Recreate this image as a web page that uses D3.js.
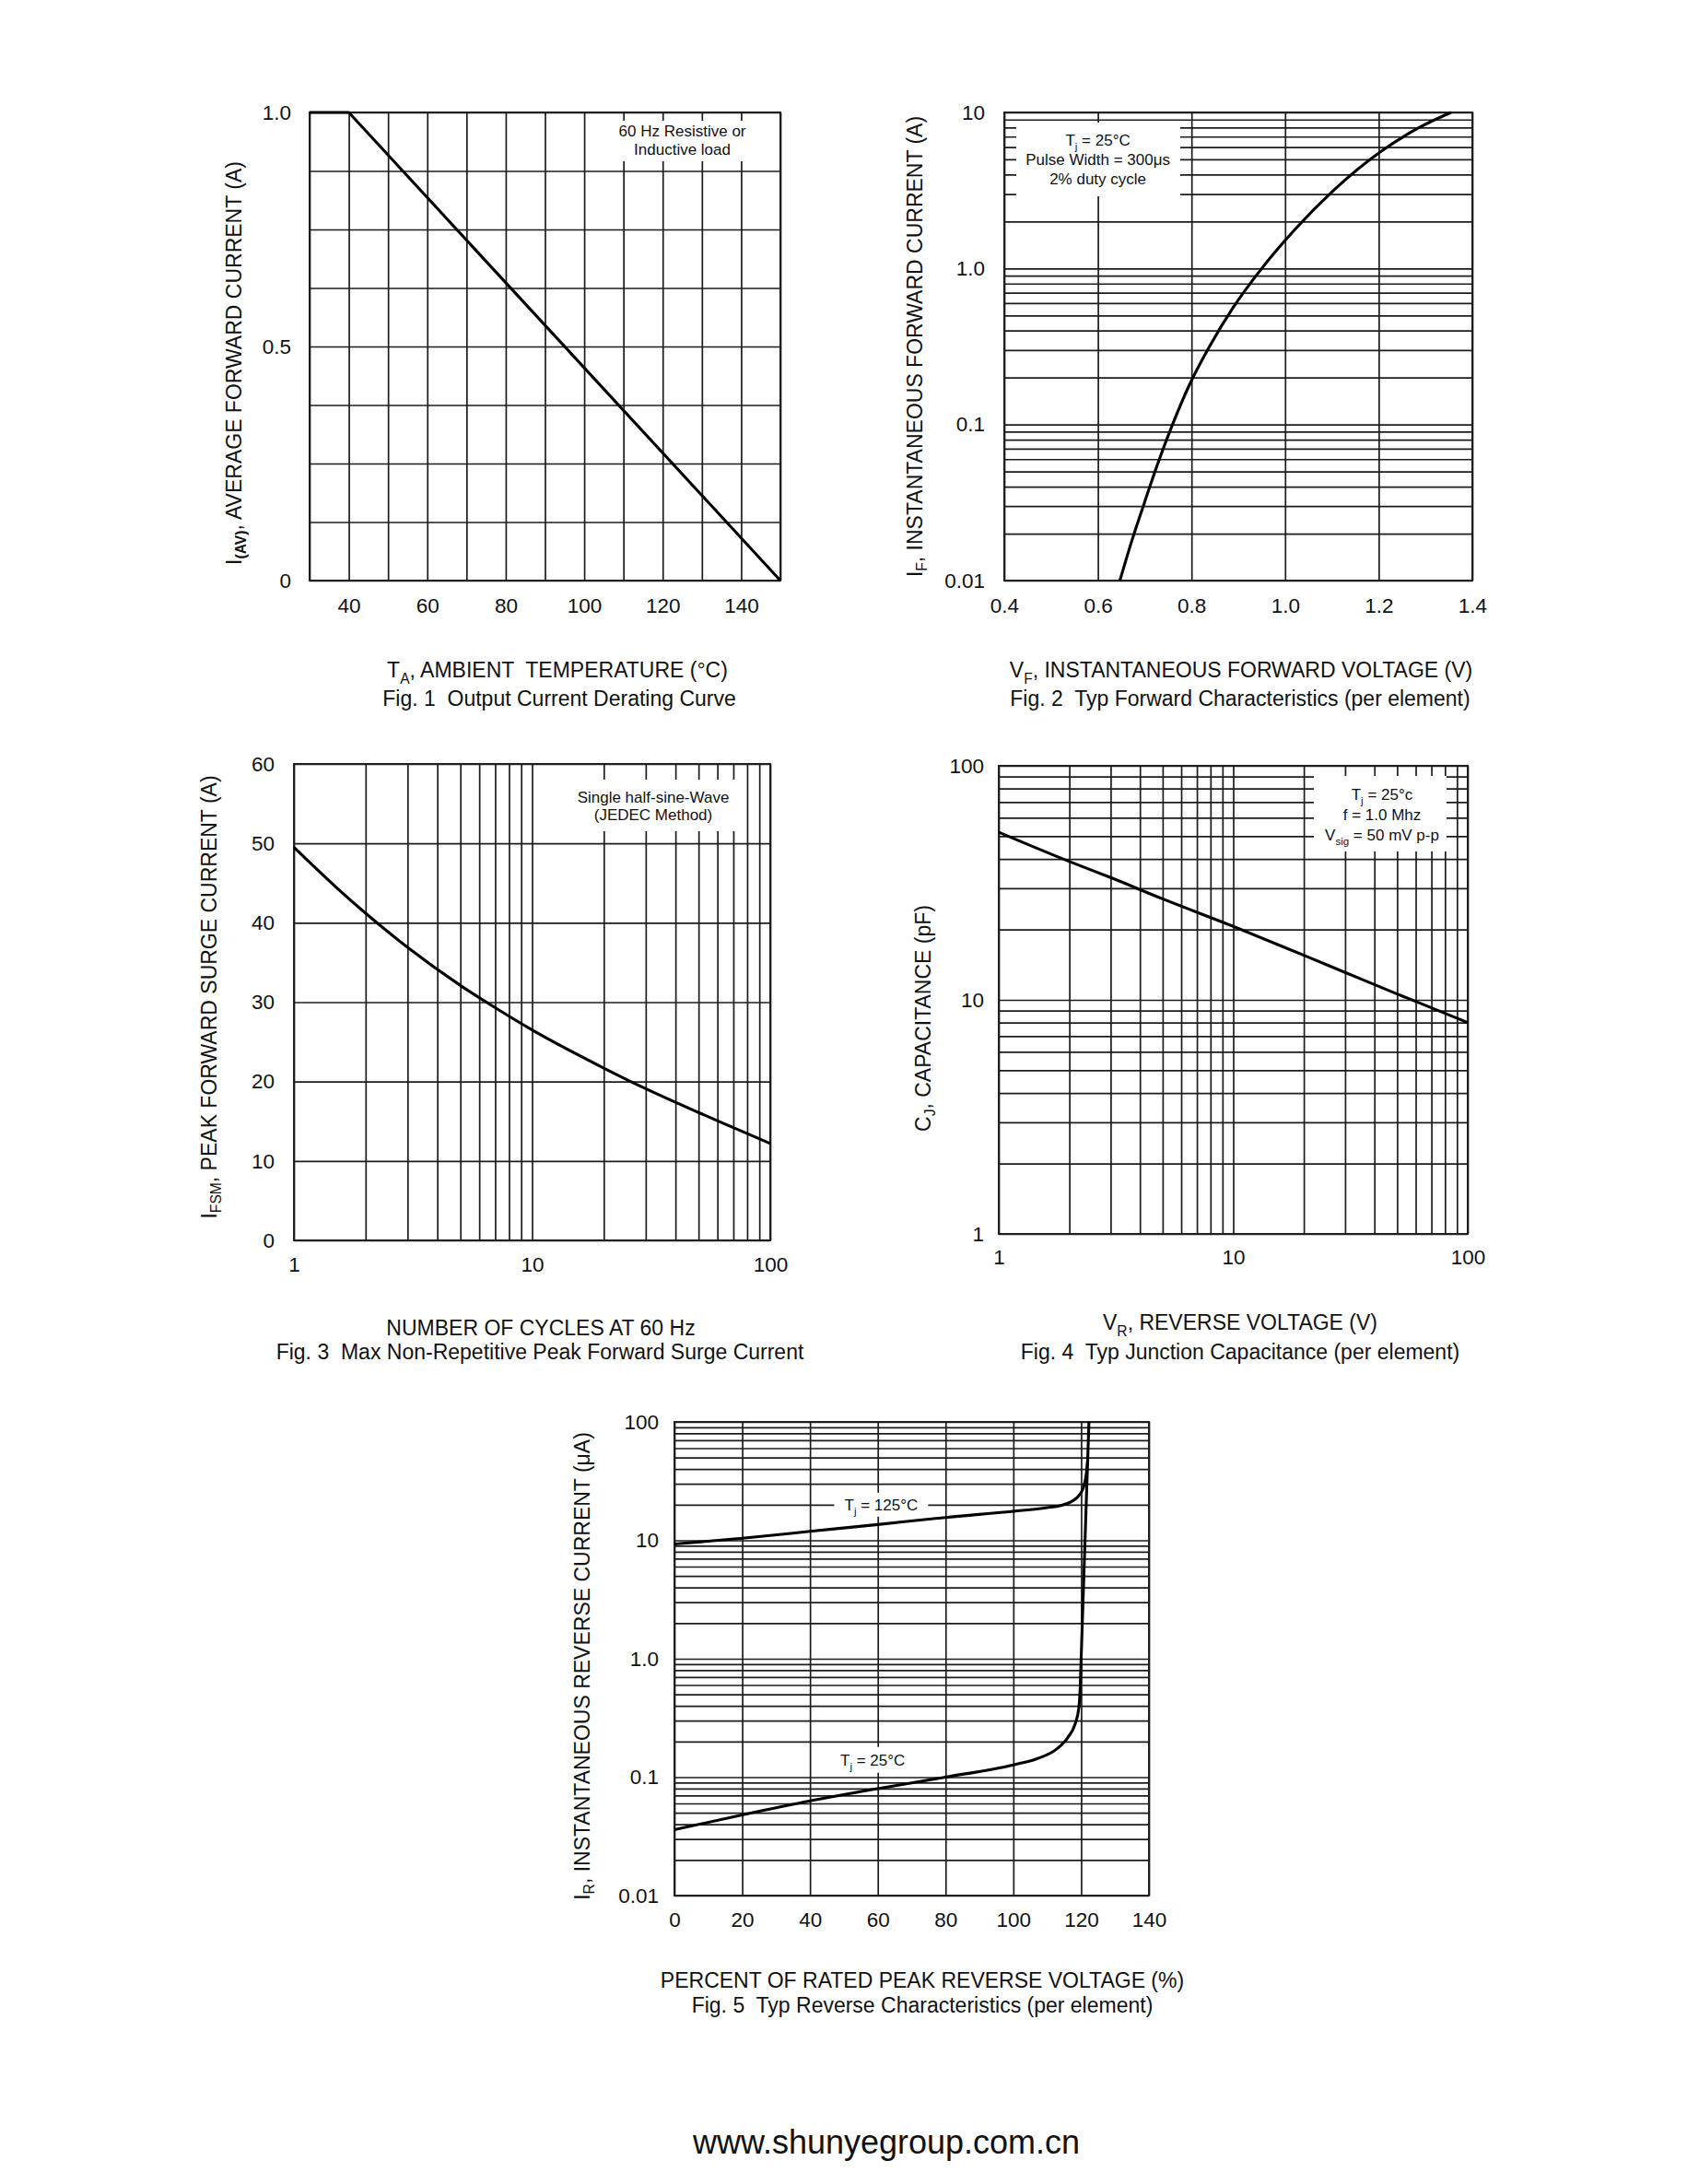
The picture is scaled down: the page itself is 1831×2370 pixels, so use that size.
<!DOCTYPE html>
<html><head><meta charset="utf-8">
<script src="https://cdn.jsdelivr.net/npm/d3@7"></script>
<style>
html,body{margin:0;padding:0;background:#fff;}
svg text{font-family:"Liberation Sans", Arial, Helvetica, sans-serif; fill:#111; white-space:pre;}
</style></head><body>
<svg id="c" width="1831" height="2370"></svg>
<script>
// ---------- Fig. 1 data ----------
const fig1Temp = [30, 40, 150];
const fig1Current = [1.0, 1.0, 0.0];
const fig1XTicks = [40, 60, 80, 100, 120, 140];
const fig1YTicks = [0, 0.5, 1.0];
const fig1YTickLabels = ["0", "0.5", "1.0"];

// ---------- Fig. 2 data ----------
const fig2Voltage = [0.647, 0.672, 0.6995, 0.728, 0.7595, 0.795, 0.8385, 0.889, 0.950, 1.021, 1.1035, 1.205, 1.2845, 1.3545];
const fig2Current = [0.01, 0.0178, 0.0316, 0.0562, 0.1, 0.178, 0.316, 0.562, 1.0, 1.778, 3.162, 5.623, 7.943, 10];
const fig2XTicks = [0.4, 0.6, 0.8, 1.0, 1.2, 1.4];
const fig2XTickLabels = ["0.4", "0.6", "0.8", "1.0", "1.2", "1.4"];
const fig2YTicks = [0.01, 0.1, 1, 10];
const fig2YTickLabels = ["0.01", "0.1", "1.0", "10"];

// ---------- Fig. 3 data ----------
const fig3Cycles = [1, 1.5, 2, 3, 5, 7, 10, 20, 30, 50, 70, 100];
const fig3Current = [49.5, 44.5, 41.2, 36.9, 32.1, 29.3, 26.5, 21.7, 19.1, 16.1, 14.2, 12.2];
const fig3XTicks = [1, 10, 100];
const fig3YTicks = [0, 10, 20, 30, 40, 50, 60];

// ---------- Fig. 4 data ----------
const fig4Voltage = [1, 2, 3, 5, 10, 20, 30, 50, 100];
const fig4Capacitance = [52, 39, 33.3, 27, 20.6, 15.5, 13.1, 10.6, 8.0];
const fig4XTicks = [1, 10, 100];
const fig4YTicks = [1, 10, 100];

// ---------- Fig. 5 data ----------
const fig5Pct125 = [0, 20, 40, 60, 80, 100, 110, 114, 118.8, 120.6, 121.5, 121.95];
const fig5Ir125 = [9.3, 10.4, 11.9, 13.6, 15.6, 17.6, 18.9, 19.7, 23, 27.5, 36, 48];
const fig5Pct25 = [0, 20, 40, 60, 80, 100, 107, 112.8, 116, 118.2, 119.3, 119.7, 120.0, 120.8, 121.6, 122.3];
const fig5Ir25 = [0.036, 0.048, 0.063, 0.08, 0.1, 0.127, 0.143, 0.173, 0.215, 0.28, 0.38, 0.55, 1.0, 5.0, 25, 100];
const fig5XTicks = [0, 20, 40, 60, 80, 100, 120, 140];
const fig5YTicks = [0.01, 0.1, 1, 10, 100];
const fig5YTickLabels = ["0.01", "0.1", "1.0", "10", "100"];

const svg = d3.select('#c');
const INK = '#111';
const TICK = 22.5, TITLE = 23, NOTE = 17;

// rich text: parts are strings or {sub:'..', bold:bool}
function rich(sel, parts, size) {
  let shift = 0;
  parts.forEach(p => {
    if (typeof p === 'string') {
      const t = sel.append('tspan').text(p);
      if (shift) { t.attr('dy', -shift); shift = 0; }
    } else {
      const d = size * 0.3;
      const t = sel.append('tspan').text(p.sub).attr('font-size', size * 0.68).attr('dy', d);
      if (p.bold) t.attr('font-weight', 'bold');
      shift = d;
    }
  });
}

function panel(c) {
  const g = svg.append('g');
  const x = c.x, y = c.y;
  const [x0, x1] = x.range();
  const [yb, yt] = y.range();
  // grid
  const vg = g.append('g').attr('transform', `translate(0,${yb})`)
    .call(d3.axisBottom(x).tickValues(c.xGrid).tickSize(-(yb - yt)).tickFormat(''));
  const hg = g.append('g').attr('transform', `translate(${x0},0)`)
    .call(d3.axisLeft(y).tickValues(c.yGrid).tickSize(-(x1 - x0)).tickFormat(''));
  [vg, hg].forEach(s => {
    s.select('.domain').remove();
    s.selectAll('line').attr('stroke', '#1c1c1c').attr('stroke-width', 1.7);
  });
  // annotation boxes
  (c.notes || []).forEach(n => {
    g.append('rect').attr('x', n.box[0]).attr('y', n.box[1])
      .attr('width', n.box[2] - n.box[0]).attr('height', n.box[3] - n.box[1]).attr('fill', '#fff');
    n.lines.forEach((ln, i) => {
      const t = g.append('text').attr('x', n.cx).attr('y', n.base + i * n.step)
        .attr('text-anchor', 'middle').attr('font-size', NOTE);
      rich(t, ln, NOTE);
    });
  });
  // frame
  g.append('rect').attr('x', x0).attr('y', yt).attr('width', x1 - x0).attr('height', yb - yt)
    .attr('fill', 'none').attr('stroke', '#1c1c1c').attr('stroke-width', 1.9);
  // curves
  c.series.forEach(s => {
    const pts = s.xs.map((v, i) => [v, s.ys[i]]);
    g.append('path').datum(pts)
      .attr('d', d3.line().x(d => x(d[0])).y(d => y(d[1])).curve(s.curve || d3.curveMonotoneX))
      .attr('fill', 'none').attr('stroke', '#000').attr('stroke-width', 3.1)
      .attr('stroke-linejoin', 'round');
  });
  // tick labels
  const xa = g.append('g').attr('transform', `translate(0,${yb})`)
    .call(d3.axisBottom(x).tickValues(c.xTicks).tickSize(0).tickPadding(c.xPad)
      .tickFormat((d, i) => c.xLabels ? c.xLabels[i] : String(d)));
  const ya = g.append('g').attr('transform', `translate(${x0},0)`)
    .call(d3.axisLeft(y).tickValues(c.yTicks).tickSize(0).tickPadding(c.yPad)
      .tickFormat((d, i) => c.yLabels ? c.yLabels[i] : String(d)));
  [xa, ya].forEach(s => {
    s.select('.domain').remove();
    s.selectAll('text').attr('font-size', TICK).attr('fill', INK)
      .attr('font-family', '"Liberation Sans", Arial, sans-serif');
  });
  // y title
  const yt_ = g.append('text').attr('transform', `translate(${c.yTitle.cx},${c.yTitle.cy}) rotate(-90)`)
    .attr('text-anchor', 'middle').attr('dominant-baseline', 'central').attr('font-size', TITLE);
  rich(yt_, c.yTitle.parts, TITLE);
  // x title & caption
  const xt = g.append('text').attr('x', c.xTitle.cx).attr('y', c.xTitle.base)
    .attr('text-anchor', 'middle').attr('font-size', TITLE);
  rich(xt, c.xTitle.parts, TITLE);
  g.append('text').attr('x', c.caption.cx).attr('y', c.caption.base)
    .attr('text-anchor', 'middle').attr('font-size', TITLE).text(c.caption.text);
  return g;
}

// ---------- Fig. 1 ----------
{
  const x = d3.scaleLinear().domain([30, 150]).range([336, 847]);
  const y = d3.scaleLinear().domain([0, 1]).range([630, 122]);
  panel({
    x, y,
    xGrid: d3.range(30, 151, 10), yGrid: d3.range(0, 1.0001, 0.125),
    xTicks: fig1XTicks, yTicks: fig1YTicks, yLabels: fig1YTickLabels,
    xPad: 19, yPad: 20,
    series: [{ xs: fig1Temp, ys: fig1Current, curve: d3.curveLinear }],
    notes: [{ box: [x(106), 131, x(144), 175], cx: x(125), base: 148, step: 20,
      lines: [["60 Hz Resistive or"], ["Inductive load"]] }],
    yTitle: { cx: 254, cy: 394, parts: ["I", { sub: "(AV)", bold: true }, ", AVERAGE FORWARD CURRENT (A)"] },
    xTitle: { cx: 605, base: 735, parts: ["T", { sub: "A" }, ", AMBIENT  TEMPERATURE (°C)"] },
    caption: { cx: 607, base: 766, text: "Fig. 1  Output Current Derating Curve" }
  });
}

// ---------- Fig. 2 ----------
{
  const x = d3.scaleLinear().domain([0.4, 1.4]).range([1090, 1598]);
  const y = d3.scaleLog().domain([0.01, 10]).range([630, 122]);
  panel({
    x, y,
    xGrid: fig2XTicks, yGrid: y.ticks(),
    xTicks: fig2XTicks, xLabels: fig2XTickLabels, yTicks: fig2YTicks, yLabels: fig2YTickLabels,
    xPad: 19, yPad: 21,
    series: [{ xs: fig2Voltage, ys: fig2Current }],
    notes: [{ box: [1103, 133, 1281, 213], cx: x(0.6), base: 158, step: 21,
      lines: [["T", { sub: "j" }, " = 25°C"], ["Pulse Width = 300μs"], ["2% duty cycle"]] }],
    yTitle: { cx: 993, cy: 376, parts: ["I", { sub: "F" }, ", INSTANTANEOUS FORWARD CURRENT (A)"] },
    xTitle: { cx: 1347, base: 735, parts: ["V", { sub: "F" }, ", INSTANTANEOUS FORWARD VOLTAGE (V)"] },
    caption: { cx: 1346, base: 766, text: "Fig. 2  Typ Forward Characteristics (per element)" }
  });
}

// ---------- Fig. 3 ----------
{
  const x = d3.scaleLog().domain([1, 100]).range([319, 836]);
  const y = d3.scaleLinear().domain([0, 60]).range([1346, 829]);
  panel({
    x, y,
    xGrid: x.ticks(), yGrid: fig3YTicks,
    xTicks: fig3XTicks, yTicks: fig3YTicks,
    xPad: 18, yPad: 21,
    series: [{ xs: fig3Cycles, ys: fig3Current }],
    notes: [{ box: [616, 846, 802, 902], cx: 709, base: 871, step: 19,
      lines: [["Single half-sine-Wave"], ["(JEDEC Method)"]] }],
    yTitle: { cx: 227, cy: 1082, parts: ["I", { sub: "FSM" }, ", PEAK FORWARD SURGE CURRENT (A)"] },
    xTitle: { cx: 587, base: 1449, parts: ["NUMBER OF CYCLES AT 60 Hz"] },
    caption: { cx: 586, base: 1475, text: "Fig. 3  Max Non-Repetitive Peak Forward Surge Current" }
  });
}

// ---------- Fig. 4 ----------
{
  const x = d3.scaleLog().domain([1, 100]).range([1084, 1593]);
  const y = d3.scaleLog().domain([1, 100]).range([1339, 831]);
  panel({
    x, y,
    xGrid: x.ticks(), yGrid: y.ticks(),
    xTicks: fig4XTicks, yTicks: fig4YTicks,
    xPad: 17, yPad: 16,
    series: [{ xs: fig4Voltage, ys: fig4Capacitance }],
    notes: [{ box: [1426, 842, 1570, 924], cx: 1500, base: 868, step: 22,
      lines: [["T", { sub: "j" }, " = 25°c"], ["f = 1.0 Mhz"], ["V", { sub: "sig" }, " = 50 mV p-p"]] }],
    yTitle: { cx: 1002, cy: 1105, parts: ["C", { sub: "J" }, ", CAPACITANCE (pF)"] },
    xTitle: { cx: 1346, base: 1443, parts: ["V", { sub: "R" }, ", REVERSE VOLTAGE (V)"] },
    caption: { cx: 1346, base: 1475, text: "Fig. 4  Typ Junction Capacitance (per element)" }
  });
}

// ---------- Fig. 5 ----------
{
  const x = d3.scaleLinear().domain([0, 140]).range([732, 1247]);
  const y = d3.scaleLog().domain([0.01, 100]).range([2057, 1543]);
  const c125 = [x(61), y(20)], c25 = [x(58.5), y(0.14)];
  panel({
    x, y,
    xGrid: fig5XTicks, yGrid: y.ticks(),
    xTicks: fig5XTicks, yTicks: fig5YTicks, yLabels: fig5YTickLabels,
    xPad: 18, yPad: 17,
    series: [{ xs: fig5Pct125, ys: fig5Ir125 }, { xs: fig5Pct25, ys: fig5Ir25 }],
    notes: [
      { box: [c125[0] - 51, c125[1] - 13, c125[0] + 51, c125[1] + 13], cx: c125[0], base: c125[1] + 6, step: 0,
        lines: [["T", { sub: "j" }, " = 125°C"]] },
      { box: [c25[0] - 41, c25[1] - 14, c25[0] + 41, c25[1] + 14], cx: c25[0], base: c25[1] + 6, step: 0,
        lines: [["T", { sub: "j" }, " = 25°C"]] }
    ],
    yTitle: { cx: 632, cy: 1808, parts: ["I", { sub: "R" }, ", INSTANTANEOUS REVERSE CURRENT (μA)"] },
    xTitle: { cx: 1001, base: 2157, parts: ["PERCENT OF RATED PEAK REVERSE VOLTAGE (%)"] },
    caption: { cx: 1001, base: 2184, text: "Fig. 5  Typ Reverse Characteristics (per element)" }
  });
}

// footer URL
svg.append('text').attr('x', 962).attr('y', 2337).attr('text-anchor', 'middle')
  .attr('font-size', 36).text('www.shunyegroup.com.cn');
</script>
</body></html>
